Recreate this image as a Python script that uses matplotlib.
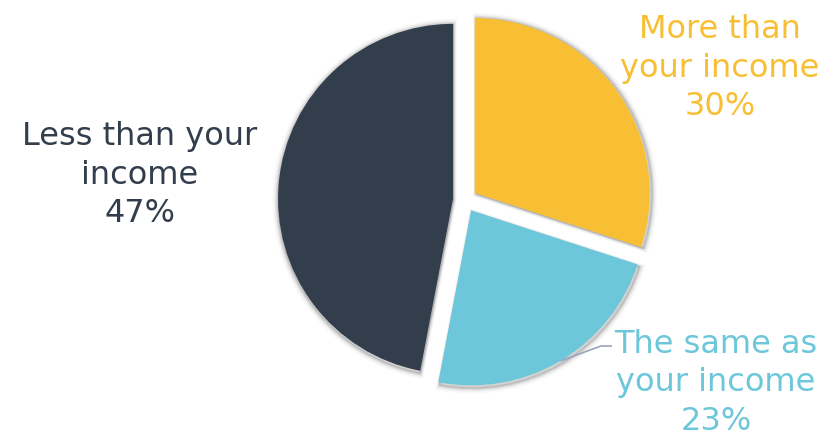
import numpy as np
import matplotlib
matplotlib.use("Agg")
import matplotlib.pyplot as plt
from matplotlib.patches import Wedge

# Share of answers for each category
categories = ["More than\nyour income", "The same as\nyour income", "Less than your\nincome"]
shares = [30, 23, 47]
colors = ["#F8BF34", "#6CC7DA", "#333E4D"]

W, H = 834, 437
fig = plt.figure(figsize=(W / 100, H / 100), dpi=100)
ax = fig.add_axes([0, 0, 1, 1])

cx, cy, r = 465, 237, 175
gap = 12  # offset of each slice from the centre, in pixels
wedges, _ = ax.pie(
    shares,
    colors=colors,
    startangle=90,
    counterclock=False,
    center=(cx, cy),
    radius=r,
    explode=[gap] * len(shares),
    wedgeprops=dict(linewidth=0, zorder=3),
    frame=True,
)

# soft drop shadow behind each slice
for w in wedges:
    for k, a in [(4, 0.025), (3, 0.035), (2, 0.05), (1, 0.07)]:
        sh = Wedge((w.center[0] + 1, w.center[1] - 1.5), w.r + k, w.theta1, w.theta2,
                   facecolor="black", edgecolor="black", linewidth=k, alpha=a,
                   zorder=1)
        ax.add_patch(sh)

ax.set_xlim(0, W)
ax.set_ylim(0, H)
ax.set_aspect("equal")
ax.axis("off")

font = "DejaVu Sans"
fs = 23

def label(i, x, y):
    ax.text(x, y, f"{categories[i]}\n{shares[i]}%", color=colors[i], fontsize=fs,
            family=font, ha="center", va="center", multialignment="center",
            linespacing=1.31)

label(0, 720, H - 68)
label(1, 716, H - 383)
label(2, 140, H - 175)

# leader line for the middle slice
w = wedges[1]
mid = np.deg2rad((w.theta1 + w.theta2) / 2)
wx, wy = w.center
sx, sy = wx + r * np.cos(mid), wy + r * np.sin(mid)
ax.plot([sx, 601, 612], [sy, H - 346, H - 346], color="#9AA4BE", lw=1.2,
        solid_capstyle="butt", zorder=2)

fig.savefig("out.png", dpi=100)
